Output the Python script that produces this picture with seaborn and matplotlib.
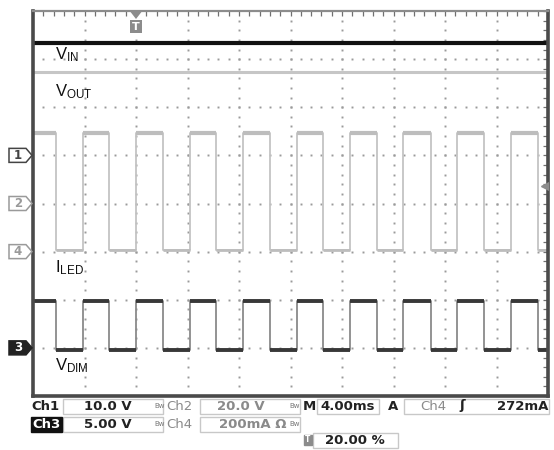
import numpy as np
import pandas as pd
import matplotlib
matplotlib.use('Agg')
import matplotlib.pyplot as plt
from matplotlib.patches import Rectangle, Polygon
import seaborn as sns

# scope settings (units per division) and ground marker positions (div from centre)
ch_scale = {'Ch1': 10.0, 'Ch2': 20.0, 'Ch3': 5.00, 'Ch4': 0.200}
ch_ground = {'Ch1': 1, 'Ch2': 0, 'Ch3': -3, 'Ch4': -1}
ms_per_div = 4.0
trig_pos = 0.20       # trigger at 20 % of the record
trig_level = 0.272    # A, Ch4 rising edge

# waveform values
vin_level = 23.3                    # V  (Ch1)
vout_level = 54.6                   # V  (Ch2)
iled_high, iled_low = 0.495, 0.008  # A  (Ch4)
vdim_high, vdim_low = 4.9, -0.2     # V  (Ch3)
rise_ms = [-4.1, 0.0, 4.2, 8.3, 12.5, 16.6, 20.7, 24.9, 29.1]
fall_ms = [-6.2, -2.1, 2.1, 6.2, 10.4, 14.5, 18.7, 22.9, 27.0, 31.2]

t0 = -trig_pos * 10 * ms_per_div
t1 = t0 + 10 * ms_per_div


def to_div(v, ch):
    return np.asarray(v, dtype=float) / ch_scale[ch] + ch_ground[ch]


def square(hi, lo, ch):
    t, y = [t0], [hi]
    for i, f in enumerate(fall_ms):
        t.append(f); y.append(lo)
        if i < len(rise_ms):
            t.append(rise_ms[i]); y.append(hi)
    t.append(t1); y.append(y[-1])
    return pd.DataFrame({'t': t, 'v': y, 'div': to_div(y, ch)})


sns.set_style('white')
plt.rcParams['font.family'] = ['DejaVu Sans']
plt.rcParams['mathtext.default'] = 'regular'

W, H = 554, 450
fig = plt.figure(figsize=(W / 100, H / 100), dpi=100)
L, R, T, B = 33, 548, 11, 396
ax = fig.add_axes([L / W, 1 - B / H, (R - L) / W, (B - T) / H])
ax.set_xlim(t0, t1)
ax.set_ylim(-4, 4)

# graticule dots
gx = np.linspace(t0, t1, 51)[1:-1]
gy = np.linspace(-4, 4, 41)[1:-1]
for yy in range(-3, 4):
    ax.plot(gx, np.full_like(gx, yy), ls='none', marker='s', ms=1.4, mew=0, color='#9a9a9a', zorder=1)
for xx in np.arange(t0 + ms_per_div, t1, ms_per_div):
    ax.plot(np.full_like(gy, xx), gy, ls='none', marker='s', ms=1.4, mew=0, color='#9a9a9a', zorder=1)

ax.set_xticks(np.linspace(t0, t1, 51))
ax.set_yticks(np.linspace(-4, 4, 41))
ax.tick_params(direction='in', length=3.5, width=0.9, color='#707070', top=True, right=True,
               labelbottom=False, labelleft=False)
for side, sp in ax.spines.items():
    sp.set_color('#8c8c8c' if side == 'top' else '#4a4a4a')
    sp.set_linewidth(1.6 if side == 'top' else 2.6)

# V_IN and V_OUT (flat)
flat = pd.DataFrame({'t': [t0, t1]})
sns.lineplot(x=flat['t'], y=to_div([vin_level] * 2, 'Ch1'), color='#111111', lw=3.0, ax=ax)
sns.lineplot(x=flat['t'], y=to_div([vout_level] * 2, 'Ch2'), color='#c6c6c6', lw=2.2, ax=ax)

# I_LED
iled = square(iled_high, iled_low, 'Ch4')
sns.lineplot(data=iled, x='t', y='div', drawstyle='steps-post', estimator=None, sort=False,
             color='#c4c4c4', lw=1.3, ax=ax)
hi = iled['v'].values[:-1] == iled_high
ax.hlines(iled['div'].values[:-1][hi], iled['t'].values[:-1][hi], iled['t'].values[1:][hi],
          color='#bdbdbd', lw=3.0)
ax.hlines(iled['div'].values[:-1][~hi], iled['t'].values[:-1][~hi], iled['t'].values[1:][~hi],
          color='#bdbdbd', lw=2.0)

# V_DIM
vdim = square(vdim_high, vdim_low, 'Ch3')
sns.lineplot(data=vdim, x='t', y='div', drawstyle='steps-post', estimator=None, sort=False,
             color='#8a8a8a', lw=1.3, ax=ax)
ax.hlines(vdim['div'].values[:-1], vdim['t'].values[:-1], vdim['t'].values[1:],
          color='#383838', lw=2.8)

ax.set_xlabel('')
ax.set_ylabel('')

# trace labels
lab = dict(transform=ax.transAxes, fontsize=12, family='Liberation Sans', color='#111111', va='baseline')
def axp(px, py):
    return (px - L) / (R - L), (B - py) / (B - T)
ax.text(*axp(55, 59), r'V$_{IN}$', **lab)
ax.text(*axp(55, 96), r'V$_{OUT}$', **lab)
ax.text(*axp(55, 272), r'I$_{LED}$', **lab)
ax.text(*axp(55, 370), r'V$_{DIM}$', **lab)


def fx(px):
    return px / W
def fy(py):
    return 1 - py / H


# ground markers (pentagon tags left of the graticule)
for ch, num in [('Ch1', '1'), ('Ch2', '2'), ('Ch4', '4'), ('Ch3', '3')]:
    py = (T + B) / 2 - ch_ground[ch] * (B - T) / 8
    dark = ch == 'Ch3'
    ec = '#222222' if dark else ('#444444' if ch == 'Ch1' else '#9a9a9a')
    pts = [(9, py - 7), (26, py - 7), (32, py), (26, py + 7), (9, py + 7)]
    fig.add_artist(Polygon([(fx(a), fy(b)) for a, b in pts], closed=True, transform=fig.transFigure,
                           fc='#222222' if dark else 'white', ec=ec, lw=1.1))
    fig.text(fx(18), fy(py), num, ha='center', va='center', fontsize=8.5, fontweight='bold',
             color='white' if dark else ec)

# trigger position and level markers
fig.add_artist(Polygon([(fx(129), fy(10)), (fx(143), fy(10)), (fx(136), fy(19))], closed=True,
                       transform=fig.transFigure, fc='#8c8c8c', ec='none'))
fig.add_artist(Rectangle((fx(130), fy(33)), fx(12), fy(0) - fy(13), transform=fig.transFigure,
                         fc='#8c8c8c', ec='none'))
fig.text(fx(136), fy(26.5), 'T', ha='center', va='center', fontsize=8, fontweight='bold', color='white')
ax.plot(t1 - 0.25, to_div(trig_level, 'Ch4'), marker='<', ms=6, color='#8c8c8c', zorder=5)

# status bar
def box(x0, y0, x1, y1, fc='white', ec='#c8c8c8'):
    fig.add_artist(Rectangle((fx(x0), fy(y1)), fx(x1) - fx(x0), fy(y0) - fy(y1),
                             transform=fig.transFigure, fc=fc, ec=ec, lw=1.0))
def txt(px, py, s, ha='left', color='#222222', bold=True, size=9.5):
    fig.text(fx(px), fy(py), s, ha=ha, va='center', color=color, fontsize=size,
             fontweight='bold' if bold else 'normal')

r1, r2, r3 = 406, 424, 440
box(63, 399, 163, 414); box(200, 399, 300, 414); box(317, 399, 379, 414); box(404, 399, 549, 414)
box(63, 417, 163, 432); box(200, 417, 300, 432)
box(313, 433, 398, 448)
box(31, 417, 62, 432, fc='#111111', ec='#111111')

txt(31, r1, 'Ch1')
txt(108, r1, f"{ch_scale['Ch1']:.1f} V", ha='center')
txt(166, r1, 'Ch2', color='#8a8a8a', bold=False)
txt(241, r1, f"{ch_scale['Ch2']:.1f} V", ha='center', color='#8a8a8a')
txt(303, r1, 'M')
txt(348, r1, f'{ms_per_div:.2f}ms', ha='center')
txt(393, r1, 'A', ha='center')
txt(420, r1, 'Ch4', color='#8a8a8a', bold=False)
txt(462, r1, 'ʃ', ha='center', color='#222222')
txt(548, r1, f'{trig_level * 1000:.0f}mA', ha='right')

txt(32, r2, 'Ch3', color='white')
txt(108, r2, f"{ch_scale['Ch3']:.2f} V", ha='center')
txt(166, r2, 'Ch4', color='#8a8a8a', bold=False)
txt(253, r2, f"{ch_scale['Ch4'] * 1000:.0f}mA Ω", ha='center', color='#8a8a8a')

for bx, by in [(160, r1), (295, r1), (160, r2), (295, r2)]:
    txt(bx, by, 'Bw', ha='center', color='#777777', bold=False, size=5)

box(304, 435, 312, 445, fc='#8c8c8c', ec='#8c8c8c')
fig.text(fx(308), fy(r3), 'T', ha='center', va='center', fontsize=5.5, fontweight='bold', color='white')
txt(355, r3, f'{trig_pos * 100:.2f} %', ha='center')

fig.savefig('out.png', dpi=100, facecolor='white')
